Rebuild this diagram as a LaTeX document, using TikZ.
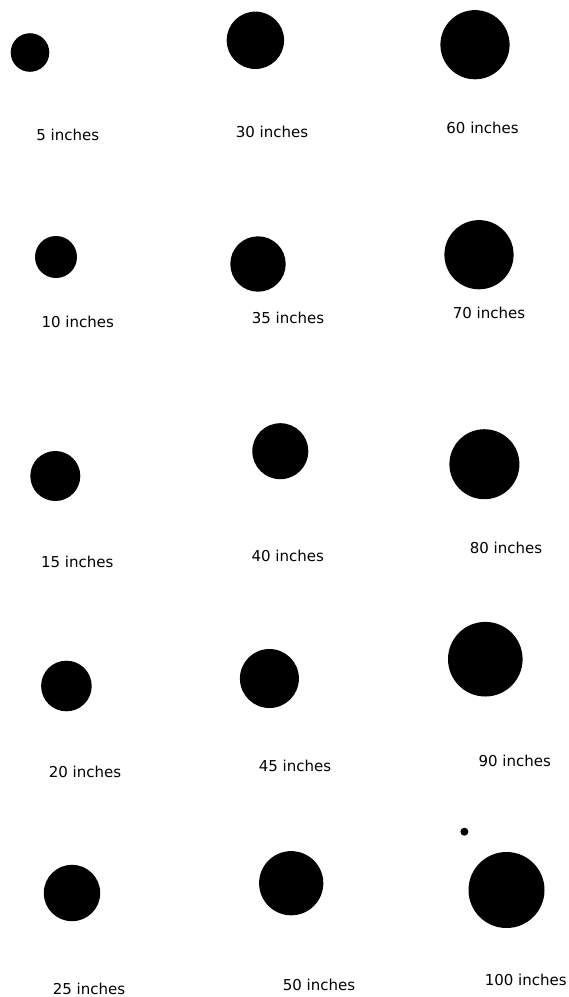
\documentclass[tikz,border=0pt]{standalone}
\usepackage{fontspec}
\setsansfont{DejaVu Sans}

\tikzset{
  dot/.style={circle,fill=black,inner sep=0pt},
  lbl/.style={font=\sffamily\fontsize{15}{15}\selectfont,inner sep=0pt}
}

\begin{document}
\begin{tikzpicture}[x=1pt,y=-1pt]
  \useasboundingbox[fill=white] (0,0) rectangle (569,997);
  % first column
  \node[dot,minimum size=38.6pt] (d5) at (30,52.5) {};
  \node[lbl] (l5) at (67.7,135) {5 inches};
  \node[dot,minimum size=42pt] (d10) at (56,257) {};
  \node[lbl] (l10) at (77.7,322) {10 inches};
  \node[dot,minimum size=50pt] (d15) at (55.3,476) {};
  \node[lbl] (l15) at (77.3,562) {15 inches};
  \node[dot,minimum size=50.6pt] (d20) at (66.4,686) {};
  \node[lbl] (l20) at (85,771.5) {20 inches};
  \node[dot,minimum size=56.4pt] (d25) at (72,893) {};
  \node[lbl] (l25) at (89,989) {25 inches};
  % second column
  \node[dot,minimum size=57.4pt] (d30) at (255.4,40.3) {};
  \node[lbl] (l30) at (272,132) {30 inches};
  \node[dot,minimum size=55.4pt] (d35) at (258,264) {};
  \node[lbl] (l35) at (288,318) {35 inches};
  \node[dot,minimum size=56pt] (d40) at (280.3,451.2) {};
  \node[lbl] (l40) at (287.7,556) {40 inches};
  \node[dot,minimum size=59pt] (d45) at (269.4,678.5) {};
  \node[lbl] (l45) at (295,766) {45 inches};
  \node[dot,minimum size=64.2pt] (d50) at (291.2,883.2) {};
  \node[lbl] (l50) at (319,985) {50 inches};
  % third column
  \node[dot,minimum size=69.2pt] (d60) at (475,44.7) {};
  \node[lbl] (l60) at (482.6,128) {60 inches};
  \node[dot,minimum size=69.2pt] (d70) at (479,254.7) {};
  \node[lbl] (l70) at (489,313) {70 inches};
  \node[dot,minimum size=70pt] (d80) at (484.4,464.2) {};
  \node[lbl] (l80) at (506,548) {80 inches};
  \node[dot,minimum size=74.6pt] (d90) at (485.3,659.2) {};
  \node[lbl] (l90) at (514.7,761) {90 inches};
  \node[dot,minimum size=76pt] (d100) at (506.5,890) {};
  \node[lbl] (l100) at (525.8,980) {100 inches};
  \node[dot,minimum size=8pt] (speck) at (464.4,831.7) {};
\end{tikzpicture}
\end{document}
